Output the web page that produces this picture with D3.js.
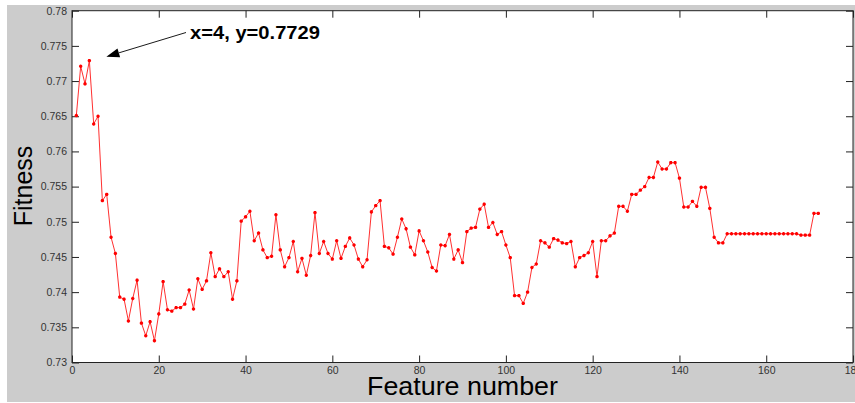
<!DOCTYPE html>
<html>
<head>
<meta charset="utf-8">
<script src="https://cdn.jsdelivr.net/npm/d3@7"></script>
<style>
  html, body { margin: 0; padding: 0; background: #ffffff; }
  svg { display: block; }
  text { font-family: "Liberation Sans", Arial, Helvetica, sans-serif; }
</style>
</head>
<body>
<svg id="chart" width="855" height="403"></svg>
<script>
// ---- data ----
const featureNumbers = d3.range(1, 173);
const fitness = [
  0.7651, 0.7721, 0.7696, 0.7729, 0.7639, 0.7650, 0.7530, 0.7539, 0.7478, 0.7455,
  0.7393, 0.7390, 0.7359, 0.7391, 0.7417, 0.7356, 0.7338, 0.7358, 0.7331, 0.7369,
  0.7415, 0.7375, 0.7373, 0.7378, 0.7378, 0.7383, 0.7403, 0.7376, 0.7419, 0.7404,
  0.7416, 0.7456, 0.7422, 0.7433, 0.7422, 0.7429, 0.7390, 0.7416, 0.7501, 0.7507,
  0.7515, 0.7473, 0.7484, 0.7460, 0.7449, 0.7451, 0.7510, 0.7460, 0.7436, 0.7449,
  0.7472, 0.7429, 0.7448, 0.7424, 0.7452, 0.7513, 0.7455, 0.7472, 0.7455, 0.7447,
  0.7473, 0.7448, 0.7465, 0.7477, 0.7467, 0.7447, 0.7436, 0.7446, 0.7514, 0.7523,
  0.7530, 0.7465, 0.7463, 0.7454, 0.7478, 0.7504, 0.7490, 0.7464, 0.7453, 0.7487,
  0.7473, 0.7457, 0.7435, 0.7430, 0.7467, 0.7466, 0.7482, 0.7447, 0.7460, 0.7442,
  0.7486, 0.7491, 0.7492, 0.7518, 0.7525, 0.7492, 0.7499, 0.7482, 0.7486, 0.7467,
  0.7449, 0.7395, 0.7395, 0.7384, 0.7400, 0.7435, 0.7440, 0.7473, 0.7470, 0.7464,
  0.7476, 0.7474, 0.7470, 0.7469, 0.7472, 0.7436, 0.7449, 0.7452, 0.7456, 0.7472,
  0.7422, 0.7473, 0.7473, 0.7480, 0.7484, 0.7522, 0.7522, 0.7515, 0.7539, 0.7539,
  0.7545, 0.7550, 0.7563, 0.7563, 0.7585, 0.7575, 0.7575, 0.7584, 0.7584, 0.7562,
  0.7521, 0.7521, 0.7529, 0.7522, 0.7549, 0.7549, 0.7519, 0.7478, 0.7470, 0.7470,
  0.7483, 0.7483, 0.7483, 0.7483, 0.7483, 0.7483, 0.7483, 0.7483, 0.7483, 0.7483,
  0.7483, 0.7483, 0.7483, 0.7483, 0.7483, 0.7483, 0.7483, 0.7481, 0.7481, 0.7481,
  0.7512, 0.7512
];
const xTicks = [0, 20, 40, 60, 80, 100, 120, 140, 160, 180];
const xTickLabels = ["0", "20", "40", "60", "80", "100", "120", "140", "160", "180"];
const yTicks = [0.73, 0.735, 0.74, 0.745, 0.75, 0.755, 0.76, 0.765, 0.77, 0.775, 0.78];
const yTickLabels = ["0.73", "0.735", "0.74", "0.745", "0.75", "0.755", "0.76", "0.765", "0.77", "0.775", "0.78"];
const xDomain = [0, 180];
const yDomain = [0.73, 0.78];
const annotationText = "x=4, y=0.7729";
const annotationPoint = { x: 4, y: 0.7729 };
const xLabel = "Feature number";
const yLabel = "Fitness";

// ---- layout ----
const W = 855, H = 403;
const plot = { left: 72, right: 853, top: 10.7, bottom: 362.5 };
const svg = d3.select("#chart");

svg.append("rect").attr("x", 0).attr("y", 0).attr("width", W).attr("height", H).attr("fill", "#ffffff");
svg.append("rect").attr("x", 7).attr("y", 5).attr("width", W - 7).attr("height", 397).attr("fill", "#cccccc");
svg.append("rect")
  .attr("x", plot.left).attr("y", plot.top)
  .attr("width", plot.right - plot.left).attr("height", plot.bottom - plot.top)
  .attr("fill", "#ffffff");

const x = d3.scaleLinear().domain(xDomain).range([plot.left, plot.right]);
const y = d3.scaleLinear().domain(yDomain).range([plot.bottom, plot.top]);

const tickLen = 7;
const tickColor = "#222";
const labelColor = "#333";

// bottom axis (ticks inward)
const gx = svg.append("g").attr("transform", `translate(0,${plot.bottom})`)
  .call(d3.axisBottom(x).tickValues(xTicks).tickSize(-tickLen).tickPadding(4)
    .tickFormat((d, i) => xTickLabels[i]));
// top axis
const gxt = svg.append("g").attr("transform", `translate(0,${plot.top})`)
  .call(d3.axisTop(x).tickValues(xTicks).tickSize(-tickLen).tickFormat(""));
// left axis
const gy = svg.append("g").attr("transform", `translate(${plot.left},0)`)
  .call(d3.axisLeft(y).tickValues(yTicks).tickSize(-tickLen).tickPadding(5)
    .tickFormat((d, i) => yTickLabels[i]));
// right axis
const gyr = svg.append("g").attr("transform", `translate(${plot.right},0)`)
  .call(d3.axisRight(y).tickValues(yTicks).tickSize(-tickLen).tickFormat(""));

[gx, gxt, gy, gyr].forEach(g => {
  g.select(".domain").remove();
  g.selectAll(".tick line").attr("stroke", tickColor).attr("stroke-width", 1);
  g.selectAll(".tick text").attr("fill", labelColor).attr("font-size", "10.5px")
    .style("font-family", "'Liberation Sans', Arial, sans-serif");
});

// box
svg.append("rect")
  .attr("x", plot.left).attr("y", plot.top)
  .attr("width", plot.right - plot.left).attr("height", plot.bottom - plot.top)
  .attr("fill", "none").attr("stroke", "#222").attr("stroke-width", 1);

// data line
const pts = featureNumbers.map((f, i) => ({ x: f, y: fitness[i] }));
svg.append("path")
  .datum(pts)
  .attr("fill", "none")
  .attr("stroke", "#ff3030")
  .attr("stroke-width", 1)
  .attr("d", d3.line().x(d => x(d.x)).y(d => y(d.y)));

// markers (asterisk-like)
const mk = svg.append("g").attr("stroke", "#ff0000").attr("stroke-width", 1.1).attr("fill", "none");
mk.selectAll("path").data(pts).enter().append("path")
  .attr("d", d => {
    const cx = x(d.x), cy = y(d.y), s = 1.7;
    return `M${cx - s},${cy}L${cx + s},${cy}M${cx},${cy - s}L${cx},${cy + s}` +
           `M${cx - 1.2},${cy - 1.2}L${cx + 1.2},${cy + 1.2}M${cx - 1.2},${cy + 1.2}L${cx + 1.2},${cy - 1.2}`;
  });

// annotation
const tip = { x: x(annotationPoint.x) + 17, y: y(annotationPoint.y) - 4 };
const tail = { x: 186, y: 32.5 };
const ang = Math.atan2(tail.y - tip.y, tail.x - tip.x);
const headLen = 13, headW = 4.5;
const bx = tip.x + headLen * Math.cos(ang), by = tip.y + headLen * Math.sin(ang);
svg.append("line")
  .attr("x1", tail.x).attr("y1", tail.y).attr("x2", bx).attr("y2", by)
  .attr("stroke", "#000").attr("stroke-width", 0.9);
svg.append("path")
  .attr("d", `M${tip.x},${tip.y}L${bx - headW * Math.sin(ang)},${by + headW * Math.cos(ang)}L${bx + headW * Math.sin(ang)},${by - headW * Math.cos(ang)}Z`)
  .attr("fill", "#000");
svg.append("text")
  .attr("x", 190).attr("y", 38.5)
  .attr("font-size", "17.5px").attr("font-weight", "bold").attr("fill", "#000")
  .attr("textLength", 130).attr("lengthAdjust", "spacingAndGlyphs")
  .text(annotationText);

// axis labels
svg.append("text")
  .attr("x", (plot.left + plot.right) / 2).attr("y", 395)
  .attr("text-anchor", "middle")
  .attr("font-size", "25px").attr("fill", "#000")
  .attr("textLength", 191).attr("lengthAdjust", "spacingAndGlyphs")
  .text(xLabel);
svg.append("text")
  .attr("transform", `translate(32,${186}) rotate(-90)`)
  .attr("text-anchor", "middle")
  .attr("font-size", "25px").attr("fill", "#000")
  .text(yLabel);
</script>
</body>
</html>
